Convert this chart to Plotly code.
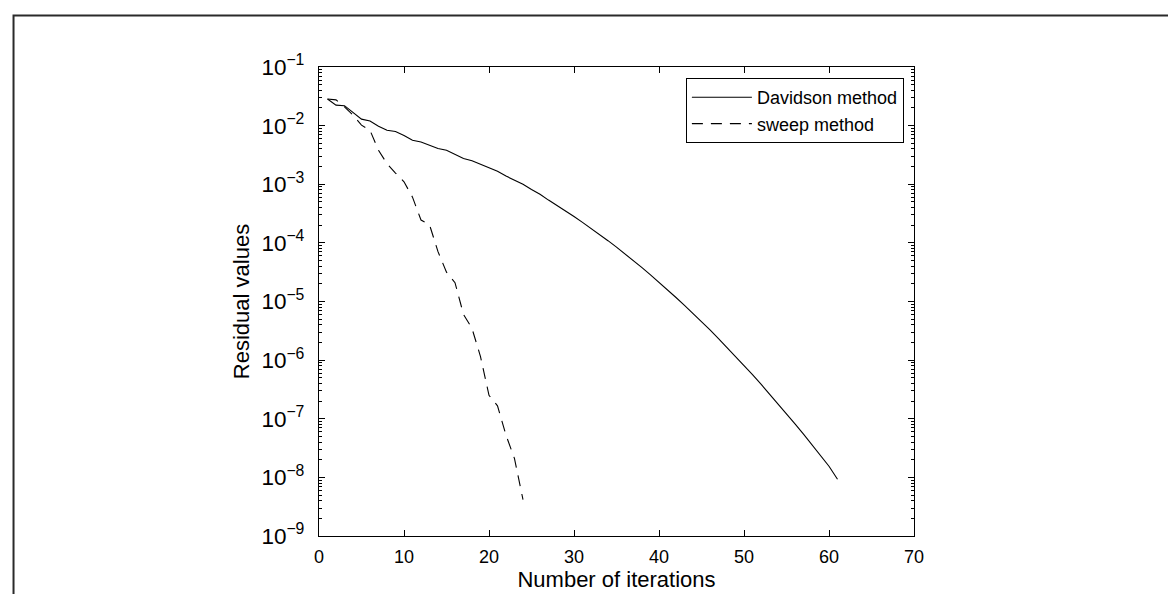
import plotly.graph_objects as go

# residual history
iter_davidson = list(range(1, 62))
res_davidson = [
    2.85e-2, 2.24e-2, 2.19e-2, 1.66e-2, 1.29e-2, 1.20e-2, 9.77e-3, 8.32e-3, 7.94e-3, 6.76e-3,
    5.62e-3, 5.25e-3, 4.57e-3, 4.07e-3, 3.80e-3, 3.24e-3, 2.75e-3, 2.51e-3, 2.19e-3, 1.86e-3,
    1.66e-3, 1.38e-3, 1.17e-3, 1.00e-3, 8.13e-4, 6.76e-4, 5.37e-4, 4.37e-4, 3.47e-4, 2.82e-4,
    2.24e-4, 1.78e-4, 1.40e-4, 1.09e-4, 8.45e-5, 6.52e-5, 4.98e-5, 3.78e-5, 2.85e-5, 2.14e-5,
    1.59e-5, 1.17e-5, 8.61e-6, 6.28e-6, 4.54e-6, 3.27e-6, 2.33e-6, 1.65e-6, 1.16e-6, 8.13e-7,
    5.64e-7, 3.89e-7, 2.66e-7, 1.81e-7, 1.22e-7, 8.20e-8, 5.46e-8, 3.61e-8, 2.37e-8, 1.55e-8,
    9.3e-9,
]

iter_sweep = list(range(1, 25))
res_sweep = [
    2.85e-2, 2.75e-2, 2.09e-2, 1.51e-2, 1.02e-2, 8.32e-3, 3.80e-3, 2.24e-3, 1.55e-3, 1.10e-3,
    6.03e-4, 2.45e-4, 2.04e-4, 7.08e-5, 3.16e-5, 2.09e-5, 6.03e-6, 3.47e-6, 1.15e-6, 2.51e-7,
    1.66e-7, 5.25e-8, 2.09e-8, 4.17e-9,
]

FONT = "Liberation Sans, Arial, Helvetica, sans-serif"

fig = go.Figure()
fig.add_trace(go.Scatter(
    x=iter_davidson, y=res_davidson, mode="lines", name="Davidson method",
    line=dict(color="black", width=1.1),
))
fig.add_trace(go.Scatter(
    x=iter_sweep, y=res_sweep, mode="lines", name="sweep method",
    line=dict(color="black", width=1.1, dash="11px,8px"),
))

# thin frame round the figure (top and left edges show in the picture)
fig.add_shape(
    type="rect", xref="paper", yref="paper",
    x0=-0.5134, x1=2.0, y0=-0.5, y1=1.1099,
    line=dict(color="#2a2a2a", width=2), fillcolor="rgba(0,0,0,0)", layer="above",
)

fig.update_layout(
    width=1176, height=594,
    margin=dict(l=311, r=270, t=59, b=66),
    paper_bgcolor="white", plot_bgcolor="white",
    font=dict(family=FONT, size=18, color="black"),
    showlegend=True,
    legend=dict(
        x=0.983, y=0.9765, xanchor="right", yanchor="top",
        bgcolor="white", bordercolor="black", borderwidth=1,
        font=dict(size=18), itemwidth=60, tracegroupgap=0,
    ),
)

fig.update_xaxes(
    range=[0, 70], dtick=10, tick0=0,
    showline=True, linecolor="black", linewidth=1, mirror="ticks",
    ticks="inside", ticklen=6, tickcolor="black",
    showgrid=False, zeroline=False, ticklabelstandoff=4,
    title=dict(text="Number of iterations", standoff=4),
)
fig.update_yaxes(
    type="log", range=[-9, -1], dtick=1, exponentformat="power",
    showline=True, linecolor="black", linewidth=1, mirror="ticks",
    ticks="inside", ticklen=6, tickcolor="black",
    minor=dict(ticks="inside", ticklen=3, tickcolor="black", dtick="D1", showgrid=False),
    showgrid=False, zeroline=False, ticklabelstandoff=10,
    title=dict(text="Residual values", standoff=5),
)

fig.write_html("out.html")
